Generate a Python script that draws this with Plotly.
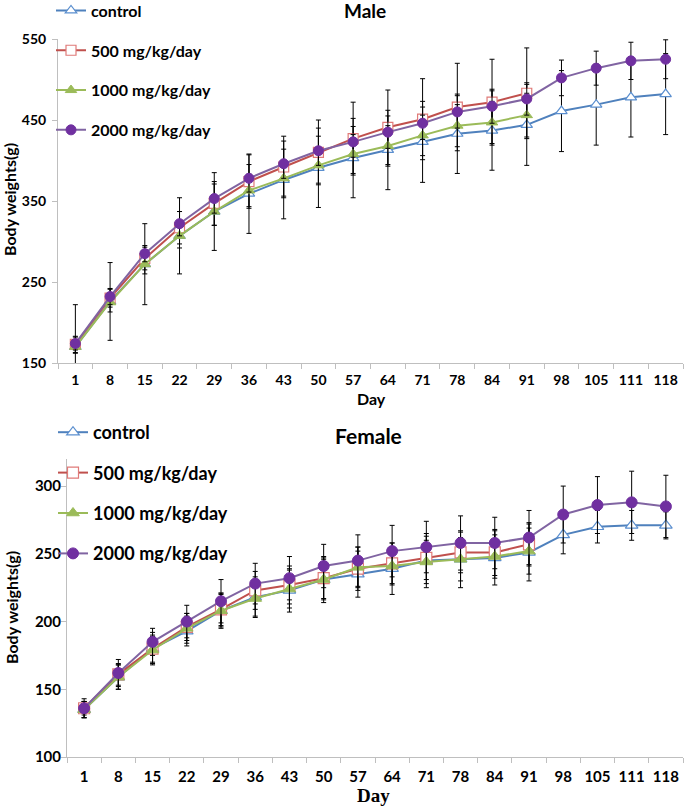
import plotly.graph_objects as go

# ---------------- data ----------------
days = ["1", "8", "15", "22", "29", "36", "43", "50", "57", "64", "71", "78", "84", "91",
        "98", "105", "111", "118"]
days_short = days[:14]

series_names = ["control", "500 mg/kg/day", "1000 mg/kg/day", "2000 mg/kg/day"]

# Male body weights (g)
male_control = [170, 226, 272, 307, 337, 359, 376, 391, 403, 413, 423, 433, 437, 444, 461, 469, 478, 482]
male_500 = [173, 230, 279, 317, 347, 374, 392, 410, 427, 441, 451, 466, 472, 483]
male_1000 = [170, 225, 272, 307, 337, 363, 378, 394, 408, 418, 431, 443, 447, 456]
male_2000 = [174, 232, 285, 322, 353, 378, 396, 412, 423, 435, 446, 460, 467, 476, 502, 514, 523, 525]

male_control_sd = [52, 48, 50, 47, 48, 49, 48, 49, 49, 49, 50, 49, 49, 50, 50, 50, 49, 50]
male_500_sd = [10, 11, 14, 20, 27, 33, 38, 40, 45, 46, 50, 54, 53, 56]
male_1000_sd = [8, 12, 12, 15, 17, 20, 22, 22, 24, 25, 25, 26, 26, 27]
male_2000_sd = [8, 10, 10, 15, 18, 17, 18, 18, 19, 20, 20, 20, 21, 20, 22, 21, 23, 24]

# Female body weights (g)
female_control = [135, 159, 180, 193, 208, 218, 223, 231, 235, 239, 245, 246, 247, 251, 264, 270, 271, 271]
female_500 = [136, 161, 180, 196, 209, 223, 227, 232, 239, 243, 247, 251, 251, 257]
female_1000 = [135, 159, 179, 195, 208, 217, 224, 231, 240, 241, 244, 246, 248, 252]
female_2000 = [136, 162, 185, 200, 215, 228, 232, 241, 245, 252, 255, 258, 258, 262, 279, 286, 288, 285]

female_control_sd = [6, 9, 12, 11, 13, 15, 16, 17, 17, 19, 20, 21, 20, 21, 14, 12, 11, 10]
female_500_sd = [5, 8, 10, 10, 12, 14, 14, 15, 16, 15, 16, 15, 17, 16]
female_1000_sd = [6, 9, 10, 11, 12, 13, 14, 15, 15, 14, 16, 16, 16, 17]
female_2000_sd = [7, 10, 10, 12, 16, 15, 16, 16, 19, 19, 19, 20, 19, 20, 21, 21, 23, 23]

# ---------------- styles ----------------
W, H = 685, 806
FONT = "Lato"
line_colors = ["#4F81BD", "#C0504D", "#9BBB59", "#8064A2"]
styles = [
    dict(symbol="triangle-up", color="white", line=dict(color="#5B8FCF", width=1.2)),
    dict(symbol="square", color="white", line=dict(color="#E07A78", width=1.2)),
    dict(symbol="triangle-up", color="#9BBB59", line=dict(color="#9BBB59", width=1)),
    dict(symbol="circle", color="#7030A0", line=dict(color="#7030A0", width=1)),
]


def px_x(p):
    return p / W


def px_y(p):
    return 1 - p / H


fig = go.Figure()

panels = [
    ("x", "y", "legend", 10,
     [(days, male_control, male_control_sd), (days_short, male_500, male_500_sd),
      (days_short, male_1000, male_1000_sd), (days, male_2000, male_2000_sd)]),
    ("x2", "y2", "legend2", 11,
     [(days, female_control, female_control_sd), (days_short, female_500, female_500_sd),
      (days_short, female_1000, female_1000_sd), (days, female_2000, female_2000_sd)]),
]

for xa, ya, leg, msize, data in panels:
    for i, (xs, ys, sd) in enumerate(data):
        st = dict(styles[i])
        st["size"] = msize
        fig.add_trace(go.Scatter(
            x=xs, y=ys, mode="lines+markers", name=series_names[i],
            xaxis=xa, yaxis=ya, legend=leg, legendgroup=f"{leg}_{i}",
            line=dict(color=line_colors[i], width=2),
            marker=st,
            error_y=dict(type="data", array=sd, visible=True, color="black",
                         thickness=1, width=2.5),
            cliponaxis=False,
        ))

axis_common = dict(showline=True, linecolor="#BFBFBF", linewidth=1, ticks="outside",
                   tickcolor="#BFBFBF", ticklen=5, showgrid=False, zeroline=False,
                   tickfont=dict(family=FONT, size=14, color="black", weight="bold"))

fig.update_layout(
    width=W, height=H,
    margin=dict(l=0, r=0, t=0, b=0, autoexpand=False),
    paper_bgcolor="white", plot_bgcolor="white",
    showlegend=True,
    xaxis=dict(axis_common, type="category", domain=[px_x(58), px_x(683)], anchor="y",
               range=[-0.5, 17.5], tickson="boundaries", categoryorder="array",
               categoryarray=days, ticklabelstandoff=4, tickangle=0),
    yaxis=dict(axis_common, domain=[px_y(363), px_y(39)], anchor="x", range=[150, 550],
               tick0=150, dtick=100, ticklabelstandoff=3),
    xaxis2=dict(axis_common, type="category", domain=[px_x(67), px_x(683)], anchor="y2",
                range=[-0.5, 17.5], tickson="boundaries", categoryorder="array",
                categoryarray=days, ticklabelstandoff=6, tickangle=0,
                tickfont=dict(family=FONT, size=15, color="black", weight="bold")),
    yaxis2=dict(axis_common, domain=[px_y(757), px_y(459)], anchor="x2", range=[100, 320],
                tick0=100, dtick=50, ticklabelstandoff=-3,
                tickfont=dict(family=FONT, size=15, color="black", weight="bold")),
    legend=dict(x=px_x(51), y=1.008, xanchor="left", yanchor="top",
                bgcolor="rgba(0,0,0,0)", tracegroupgap=16,
                font=dict(family=FONT, size=16, color="black", weight="bold")),
    legend2=dict(x=px_x(53), y=px_y(414), xanchor="left", yanchor="top",
                 bgcolor="rgba(0,0,0,0)", tracegroupgap=14,
                 font=dict(family=FONT, size=18, color="black", weight="bold")),
)

annots = [
    dict(text="Male", x=px_x(365), y=px_y(11), font=dict(family=FONT, size=19, weight="bold")),
    dict(text="Female", x=px_x(368), y=px_y(435), font=dict(family=FONT, size=21, weight="bold")),
    dict(text="Day", x=px_x(371), y=px_y(399), font=dict(family=FONT, size=16, weight="bold")),
    dict(text="Day", x=px_x(374), y=px_y(795),
         font=dict(family="Liberation Serif", size=19, weight="bold")),
    dict(text="Body weights(g)", x=px_x(9), y=px_y(200), textangle=-90,
         font=dict(family=FONT, size=16, weight="bold")),
    dict(text="Body weights(g)", x=px_x(11), y=px_y(608), textangle=-90,
         font=dict(family=FONT, size=16, weight="bold")),
]
for a in annots:
    a["font"]["color"] = "black"
    fig.add_annotation(xref="paper", yref="paper", showarrow=False,
                       xanchor="center", yanchor="middle", **a)

fig.write_html("out.html",
               config={"displayModeBar": False},
               post_script="document.body.style.margin='0px';document.body.style.overflow='hidden';")
